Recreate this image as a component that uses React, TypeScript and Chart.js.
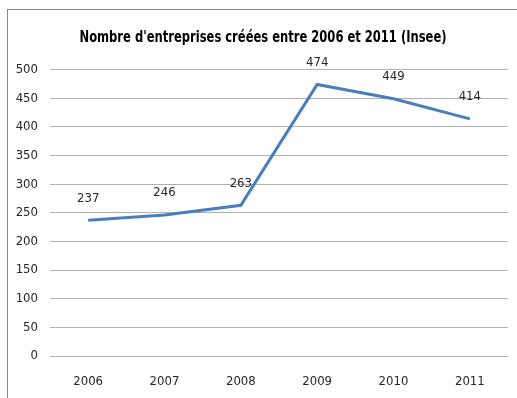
import React, { useEffect, useRef } from "react";
import { Chart, registerables } from "chart.js";

Chart.register(...registerables);

const years = ["2006", "2007", "2008", "2009", "2010", "2011"];
const companies = [237, 246, 263, 474, 449, 414];
const titleText = "Nombre d'entreprises créées entre 2006 et 2011 (Insee)";
const FONT = "'DejaVu Sans Condensed', 'Liberation Sans Narrow', sans-serif";

const valueLabels = {
  id: "valueLabels",
  afterDatasetsDraw(chart: any) {
    const ctx = chart.ctx;
    const meta = chart.getDatasetMeta(0);
    ctx.save();
    ctx.font = `13px ${FONT}`;
    ctx.fillStyle = "#262626";
    ctx.textAlign = "center";
    ctx.textBaseline = "middle";
    meta.data.forEach((pt: any, i: number) => {
      ctx.fillText(String(companies[i]), pt.x, pt.y - 22);
    });
    ctx.restore();
  },
};

const condensedTitle = {
  id: "condensedTitle",
  afterDraw(chart: any) {
    const ctx = chart.ctx;
    ctx.save();
    ctx.font = `bold 16px ${FONT}`;
    ctx.fillStyle = "#000";
    ctx.textAlign = "center";
    ctx.textBaseline = "middle";
    const w = ctx.measureText(titleText).width;
    const target = 367;
    const sx = Math.min(1, target / w);
    ctx.translate(263, 38);
    ctx.scale(sx, 1);
    ctx.fillText(titleText, 0, 0);
    ctx.restore();
  },
};

export default function App() {
  const ref = useRef<HTMLCanvasElement>(null);
  useEffect(() => {
    document.body.style.overflow = "hidden";
    const chart = new Chart(ref.current!, {
      type: "line",
      data: {
        labels: years,
        datasets: [
          {
            data: companies,
            borderColor: "#4a7ebb",
            borderWidth: 3,
            pointRadius: 0,
            tension: 0,
            fill: false,
          },
        ],
      },
      options: {
        responsive: false,
        animation: false,
        layout: { padding: { left: 8, right: 9, top: 0, bottom: 0 } },
        plugins: {
          legend: { display: false },
          tooltip: { enabled: false },
          title: {
            display: true,
            text: titleText,
            color: "rgba(0,0,0,0)",
            font: { family: FONT, size: 13, weight: "bold" },
            padding: { top: 29, bottom: 25 },
          },
        },
        scales: {
          x: {
            offset: true,
            grid: { display: false },
            border: { display: false },
            ticks: { color: "#262626", font: { family: FONT, size: 13 }, padding: 10 },
            afterFit: (s: any) => {
              s.height = 42;
            },
          },
          y: {
            min: 0,
            max: 500,
            grid: { color: "#b0b0b0", drawTicks: false, lineWidth: 1 },
            border: { display: false },
            ticks: {
              stepSize: 50,
              color: "#262626",
              font: { family: FONT, size: 13 },
              padding: 12,
            },
            afterFit: (s: any) => {
              s.width = 42;
            },
          },
        },
      },
      plugins: [valueLabels, condensedTitle],
    });
    return () => chart.destroy();
  }, []);
  return (
    <div style={{ position: "fixed", left: 0, top: 0, width: 517, height: 398, background: "#fff" }}>
      <div
        style={{
          position: "absolute",
          left: 7,
          top: 9,
          width: 600,
          height: 500,
          border: "1px solid #8a8a8a",
          boxSizing: "border-box",
        }}
      />
      <canvas ref={ref} width={517} height={398} style={{ position: "absolute", left: 0, top: 0 }} />
    </div>
  );
}
